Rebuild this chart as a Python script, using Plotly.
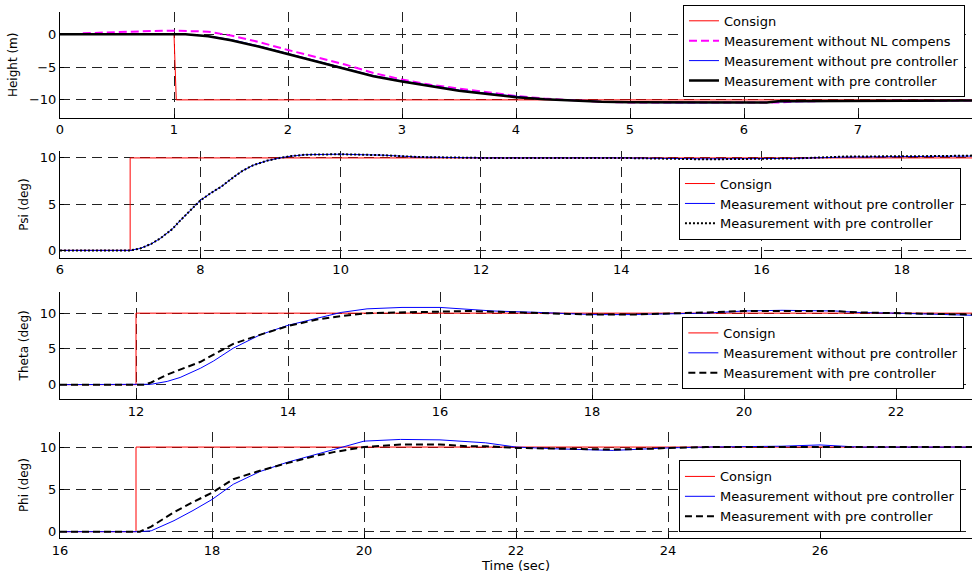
import plotly.graph_objects as go

# ---------------- data ----------------
# Height (m)
t_h_cons = [0, 1.0, 1.02, 8]
h_cons = [0, 0, -10, -10]
t_h = [0, 0.5, 1.0, 1.1, 1.3, 1.5, 1.75, 2.0, 2.25, 2.5, 2.75, 3.0, 3.25, 3.5,
       3.75, 4.0, 4.25, 4.5, 4.75, 5.0, 5.5, 6.0, 6.2, 6.3, 7.0, 7.5, 8.0]
h_with = [0, 0, 0, 0, -0.3, -0.9, -1.9, -3.0, -4.2, -5.3, -6.4, -7.2, -7.9, -8.6,
          -9.1, -9.6, -9.9, -10.1, -10.3, -10.35, -10.4, -10.4, -10.4, -10.2, -10.15, -10.1, -10.1]
h_wo = [0, 0, 0, 0, -0.25, -0.8, -1.8, -2.9, -4.1, -5.2, -6.3, -7.1, -7.8, -8.5,
        -9.0, -9.5, -9.9, -10.1, -10.3, -10.4, -10.45, -10.45, -10.4, -10.3, -10.2, -10.1, -10.1]
t_h_nl = [0.2, 0.5, 0.8, 1.0, 1.3, 1.5, 1.75, 2.0, 2.25, 2.5, 2.75, 3.0, 3.25, 3.5,
          3.75, 4.0, 4.25, 4.5, 4.75, 5.0, 5.5, 6.0, 6.3, 6.5, 7.0, 7.5, 8.0]
h_nl = [0.15, 0.35, 0.5, 0.55, 0.4, -0.2, -1.2, -2.4, -3.5, -4.6, -5.9, -6.9, -7.7, -8.3,
        -8.9, -9.4, -9.8, -10.1, -10.3, -10.4, -10.4, -10.4, -10.4, -10.2, -10.15, -10.1, -10.1]

# Psi (deg)
t_psi_cons = [6, 7.0, 7.0, 19]
psi_cons = [0, 0, 10, 10]
t_psi = [6, 7.0, 7.14, 7.3, 7.43, 7.6, 7.71, 7.85, 8.0, 8.15, 8.3, 8.47, 8.6, 8.75,
         8.95, 9.13, 9.3, 9.5, 10.0, 10.6, 11.1, 12, 13, 14, 15.2, 16.0, 16.5, 17.2, 18.0, 18.5, 19.0]
psi_wo = [0, 0, 0.2, 0.7, 1.3, 2.3, 3.2, 4.3, 5.4, 6.2, 6.9, 7.9, 8.6, 9.2,
          9.7, 10.0, 10.2, 10.35, 10.4, 10.3, 10.1, 10.0, 10.0, 10.0, 9.9, 9.9, 9.95, 10.1, 10.15, 10.2, 10.2]
psi_with = [0, 0, 0.2, 0.7, 1.3, 2.3, 3.2, 4.3, 5.4, 6.2, 6.9, 7.9, 8.6, 9.2,
            9.7, 10.0, 10.2, 10.35, 10.4, 10.3, 10.1, 10.0, 10.0, 10.0, 9.85, 9.9, 9.95, 10.15, 10.15, 10.2, 10.25]

# Theta (deg)
t_th_cons = [11, 12.0, 12.0, 23]
th_cons = [0, 0, 10, 10]
t_th = [11, 12.0, 12.1, 12.2, 12.41, 12.58, 12.85, 13.02, 13.28, 13.64, 14.0, 14.38, 14.7, 15.04,
        15.5, 16.0, 16.4, 16.7, 17.3, 18.0, 18.5, 19.0, 19.5, 20.0, 20.5, 21.2, 21.5, 22.0, 22.5, 23.0]
th_wo = [0, 0, 0, 0.05, 0.45, 1.0, 2.3, 3.3, 5.1, 7.0, 8.3, 9.3, 10.1, 10.6,
         10.8, 10.8, 10.5, 10.3, 10.1, 9.8, 9.8, 9.9, 10.0, 10.3, 10.4, 10.3, 10.1, 10.0, 9.8, 9.7]
th_with = [0, 0, 0, 0.3, 1.4, 2.1, 3.2, 4.2, 5.7, 7.0, 8.2, 9.1, 9.6, 10.0,
           10.1, 10.3, 10.3, 10.2, 10.0, 9.8, 9.8, 9.9, 10.1, 10.3, 10.3, 10.3, 10.1, 10.0, 9.9, 9.8]

# Phi (deg)
t_phi_cons = [16, 17.0, 17.0, 28]
phi_cons = [0, 0, 10, 10]
t_phi = [16, 17.0, 17.05, 17.2, 17.5, 17.75, 18.0, 18.28, 18.63, 18.99, 19.38, 19.6, 20.0, 20.48,
         21.0, 21.35, 21.6, 22.0, 22.5, 23.28, 23.8, 24.0, 24.5, 25.5, 26.0, 26.5, 27.0, 28.0]
phi_wo = [0, 0, 0, 0.1, 1.3, 2.5, 3.8, 5.6, 7.1, 8.2, 9.1, 9.7, 10.7, 10.9,
          10.85, 10.6, 10.5, 10.0, 9.8, 9.6, 9.8, 9.9, 10.0, 10.1, 10.25, 10.0, 10.0, 10.0]
phi_with = [0, 0, 0, 0.6, 2.3, 3.5, 4.6, 6.2, 7.2, 8.1, 9.0, 9.4, 10.0, 10.3,
            10.3, 10.1, 10.1, 9.9, 9.8, 9.7, 9.8, 9.9, 10.0, 10.0, 10.0, 10.0, 10.0, 10.0]

y_titles = ["Height (m)", "Psi (deg)", "Theta (deg)", "Phi (deg)"]
x_ranges = [[0, 8], [6, 19], [11, 23], [16, 28]]
x_dtick = [1, 2, 2, 2]
y_ranges = [[-12.7, 3.4], [-0.8, 10.7], [-2.0, 13.0], [-0.8, 11.8]]
y_ticks = [[-10, -5, 0], [0, 5, 10], [0, 5, 10], [0, 5, 10]]

lbl_cons = "Consign"
lbl_nl = "Measurement without NL compens"
lbl_wo = "Measurement without pre controller"
lbl_with = "Measurement with pre controller"

# ---------------- figure ----------------
RED = "#ff0000"
BLUE = "#0000ff"
FONT = "DejaVu Sans"

fig = go.Figure()

def add(x, y, ax, lg, name, color, width, dash="solid"):
    fig.add_trace(go.Scatter(
        x=x, y=y, mode="lines", name=name,
        line=dict(color=color, width=width, dash=dash),
        xaxis="x" if ax == 1 else f"x{ax}",
        yaxis="y" if ax == 1 else f"y{ax}",
        legend="legend" if lg == 1 else f"legend{lg}",
    ))

add(t_h_cons, h_cons, 1, 1, lbl_cons, RED, 1)
add(t_h_nl, h_nl, 1, 1, lbl_nl, "#ff00ff", 2, "8px,4px")
add(t_h, h_wo, 1, 1, lbl_wo, BLUE, 1)
add(t_h, h_with, 1, 1, lbl_with, "black", 2.5)

add(t_psi_cons, psi_cons, 2, 2, lbl_cons, RED, 1)
add(t_psi, psi_wo, 2, 2, lbl_wo, BLUE, 1)
add(t_psi, psi_with, 2, 2, lbl_with, "black", 2, "2px,2px")

add(t_th_cons, th_cons, 3, 3, lbl_cons, RED, 1)
add(t_th, th_wo, 3, 3, lbl_wo, BLUE, 1)
add(t_th, th_with, 3, 3, lbl_with, "black", 2, "7px,4px")

add(t_phi_cons, phi_cons, 4, 4, lbl_cons, RED, 1)
add(t_phi, phi_wo, 4, 4, lbl_wo, BLUE, 1)
add(t_phi, phi_with, 4, 4, lbl_with, "black", 2, "7px,4px")

domains = [[0.7958, 0.9808], [0.5503, 0.7365], [0.3031, 0.4909], [0.0588, 0.2455]]

layout = dict(
    width=973, height=573,
    margin=dict(l=60, r=1, t=0, b=0),
    paper_bgcolor="white", plot_bgcolor="white",
    font=dict(family=FONT, size=13, color="black"),
    showlegend=True,
)

for i in range(4):
    k = "" if i == 0 else str(i + 1)
    layout[f"xaxis{k}"] = dict(
        domain=[0, 1], anchor=f"y{k}", range=x_ranges[i], dtick=x_dtick[i], tick0=0,
        showgrid=True, gridcolor="#222222", griddash="10px,6px", gridwidth=1,
        zeroline=False, showline=True, linecolor="black", linewidth=1,
        ticks="inside", ticklen=4, tickcolor="black",
        tickfont=dict(family=FONT, size=13, color="black"),
    )
    layout[f"yaxis{k}"] = dict(
        domain=domains[i], anchor=f"x{k}", range=y_ranges[i], tickvals=y_ticks[i],
        showgrid=True, gridcolor="#222222", griddash="10px,6px", gridwidth=1,
        zeroline=False, showline=True, linecolor="black", linewidth=1,
        ticks="inside", ticklen=4, tickcolor="black",
        tickfont=dict(family=FONT, size=13, color="black"),
        title=dict(text=y_titles[i], font=dict(family=FONT, size=12, color="black"), standoff=8),
    )

layout["xaxis4"]["title"] = dict(text="Time (sec)", font=dict(family=FONT, size=13, color="black"), standoff=4)

leg_common = dict(
    xanchor="right", yanchor="middle", bgcolor="white", bordercolor="black", borderwidth=1,
    font=dict(family=FONT, size=13, color="black"), xref="paper", yref="paper",
    tracegroupgap=0,
)
layout["legend"] = dict(x=0.9923, y=0.9127, **leg_common)
layout["legend2"] = dict(x=0.9879, y=0.6452, **leg_common)
layout["legend3"] = dict(x=0.9916, y=0.3836, **leg_common)
layout["legend4"] = dict(x=0.9879, y=0.1323, **leg_common)

fig.update_layout(**layout)
fig.write_html(
    "out.html",
    config={"displayModeBar": False},
    post_script="document.body.style.margin='0';document.body.style.overflow='hidden';",
)
